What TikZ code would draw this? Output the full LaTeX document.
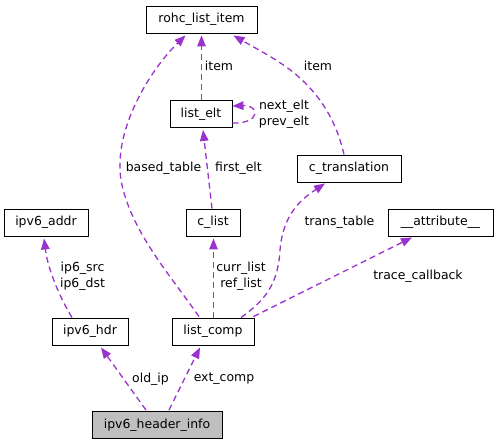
\documentclass[tikz,border=0pt]{standalone}
\usepackage{fontspec}
\setmainfont{DejaVu Sans}
\usetikzlibrary{arrows.meta,calc}
\definecolor{relcolor}{RGB}{154,50,205}
\definecolor{mainfill}{RGB}{191,191,191}

\begin{document}
\begin{tikzpicture}[x=1bp,y=-1bp,
  cls/.style={draw=black,line width=0.9bp,fill=white,inner sep=0pt,minimum height=27bp,font=\fontsize{12.5}{16}\selectfont},
  lbl/.style={inner sep=0pt,align=center,font=\fontsize{12.5}{16}\selectfont},
  rel/.style={draw=relcolor,line width=1.3bp,dash pattern=on 6bp off 4bp,-{Triangle[length=11bp,width=8.5bp]}}]
\useasboundingbox (0,0) rectangle (499,445);

\node[cls,minimum width=111bp] (item) at (201.5,19.5) {rohc\_list\_item};
\node[cls,minimum width=62bp] (elt) at (201,114) {list\_elt};
\node[cls,minimum width=104bp] (trans) at (349,168.5) {c\_translation};
\node[cls,minimum width=84bp] (addr) at (46,222.5) {ipv6\_addr};
\node[cls,minimum width=54bp] (clist) at (213,222.5) {c\_list};
\node[cls,minimum width=105bp] (attr) at (440.5,222.5) {\_\_attribute\_\_};
\node[cls,minimum width=76bp] (hdr) at (90,331.5) {ipv6\_hdr};
\node[cls,minimum width=82bp] (comp) at (213,331.5) {list\_comp};
\node[cls,minimum width=130bp,fill=mainfill] (info) at (157,425) {ipv6\_header\_info};

\draw[rel] ($(info.north)+(-11,-1)$) -- ($(hdr.south)+(11,2)$);
\draw[rel] ($(info.north)+(12,-1)$) -- ($(comp.south)+(-13,2)$);
\draw[rel] ($(hdr.north)+(-18,0)$) .. controls (60,298) and (48,270) .. ($(addr.south)+(-2,2)$);
\draw[rel] ($(comp.north)+(0.5,0)$) -- ($(clist.south)+(0.5,2)$);
\draw[rel] ($(comp.north)+(-14,-1)$) .. controls (170,275) and (130,230) .. (121,180)
  .. controls (113,130) and (150,70) .. ($(item.south)+(-16,2)$);
\draw[rel] ($(comp.north)+(28,0)$) .. controls (265,300) and (278,285) .. (280,250)
  .. controls (283,215) and (300,200) .. ($(trans.south)+(-24,1)$);
\draw[rel] ($(comp.north east)+(-1,-1)$) -- ($(attr.south)+(-28.5,1)$);
\draw[rel] ($(clist.north)+(-1,0)$) -- ($(elt.south)+(2,2)$);
\draw[rel] ($(elt.north)+(0.5,0)$) -- ($(item.south)+(0,2)$);
\draw[rel] ($(trans.north)+(-5,0)$) .. controls (335,115) and (315,90) .. (293,72)
  .. controls (275,58) and (255,48) .. ($(item.south east)+(-24,2)$);
\draw[rel] ($(elt.east)+(0,9)$) .. controls +(28,1) and +(28,-1) .. ($(elt.east)+(0,-8)$);

\node[lbl] (l_old) at (150.5,379) {old\_ip};
\node[lbl] (l_ext) at (224,379) {ext\_comp};
\node[lbl] (l_ip6) at (82.5,276.3) {ip6\_src\\ip6\_dst};
\node[lbl] (l_cur) at (241,276.3) {curr\_list\\ref\_list};
\node[lbl] (l_based) at (163.5,168) {based\_table};
\node[lbl] (l_ttab) at (339.5,222.3) {trans\_table};
\node[lbl] (l_trace) at (418,276.7) {trace\_callback};
\node[lbl] (l_first) at (238.5,168) {first\_elt};
\node[lbl] (l_item) at (219,66) {item};
\node[lbl] (l_titem) at (318,66) {item};
\node[lbl] (l_next) at (284,114.5) {next\_elt\\prev\_elt};
\end{tikzpicture}
\end{document}
